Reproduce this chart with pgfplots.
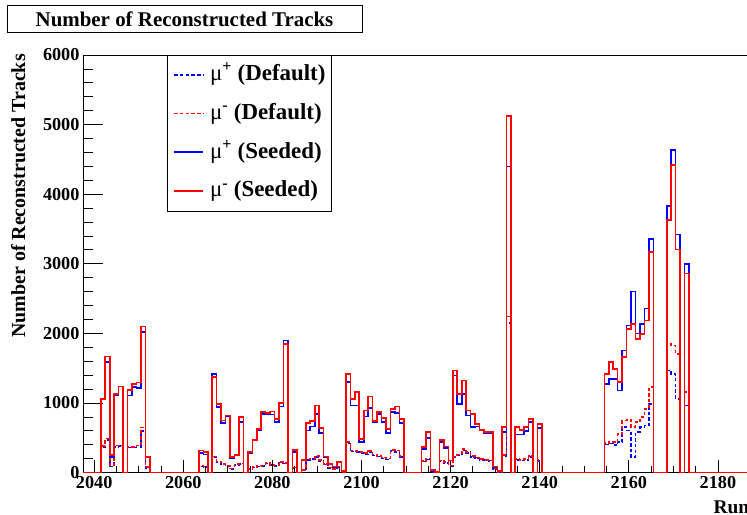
\documentclass[border=0pt]{standalone}
\usepackage{fontspec}
\setmainfont{Liberation Serif}
\usepackage{pgfplots}
\usepackage{pgfplotstable}
\pgfplotsset{compat=1.18}

% n = run (bin centre); rs/bs = mu-/mu+ seeded; rd/bd = mu-/mu+ default
\pgfplotstableread{
n rs bs rd bd
2038 0 0 0 0
2042 1060 1050 380 370
2043 1670 1590 490 470
2044 254 220 100 90
2045 1130 1108 390 370
2046 1237 1237 390 380
2047 0 0 0 0
2048 1190 1108 370 360
2049 1276 1228 370 360
2050 1295 1218 390 370
2051 2100 2020 650 600
2052 220 220 80 70
2053 0 0 0 0
2064 317 283 100 90
2065 293 259 90 80
2066 0 0 0 0
2067 1371 1419 230 220
2068 988 940 160 150
2069 748 710 125 120
2070 820 806 100 95
2071 220 206 60 55
2072 254 245 125 110
2073 796 724 130 125
2074 0 0 0 0
2075 293 278 55 50
2076 470 460 80 75
2077 623 614 95 90
2078 868 844 100 95
2079 854 835 135 130
2080 878 835 110 105
2081 772 724 100 95
2082 997 950 150 140
2083 1851 1899 135 130
2084 0 0 0 0
2085 326 293 75 70
2086 0 0 0 0
2087 182 172 40 35
2088 710 604 195 180
2089 739 662 205 195
2090 964 844 240 225
2091 643 566 185 170
2092 230 220 125 115
2093 125 115 75 70
2094 86 77 55 50
2095 150 150 85 80
2096 20 15 10 10
2097 1420 1300 436 420
2098 1060 964 317 305
2099 1156 964 307 295
2100 485 437 292 280
2101 892 806 278 265
2102 1094 931 307 290
2103 739 729 259 245
2104 868 844 240 230
2105 787 724 216 205
2106 628 566 202 190
2107 916 868 326 310
2108 950 854 317 300
2109 772 710 240 225
2110 0 0 0 0
2114 364 340 170 160
2115 580 499 200 190
2116 36 20 15 10
2117 10 8 5 5
2118 470 437 175 165
2119 374 355 150 140
2120 172 172 100 95
2121 1468 1396 230 220
2122 1132 988 260 250
2123 1324 1132 340 320
2124 892 820 292 280
2125 844 652 240 225
2126 700 662 216 205
2127 614 604 192 185
2128 580 566 182 175
2129 580 566 172 165
2130 86 80 60 55
2131 20 15 10 10
2132 652 580 250 240
2133 5120 4400 2240 2150
2134 0 0 0 0
2135 652 547 197 185
2136 614 547 182 175
2137 652 595 197 185
2138 772 724 240 225
2139 0 0 0 0
2140 700 643 180 170
2141 0 0 0 0
2155 1420 1276 422 403
2156 1587 1348 440 420
2157 1492 1348 437 393
2158 1300 1180 556 437
2159 1660 1755 748 652
2160 2067 2115 758 604
2161 2139 2600 652 220
2162 1918 2000 724 585
2163 1990 2139 796 652
2164 2187 2355 916 676
2165 3170 3352 1228 988
2166 0 0 0 0
2169 3626 3827 1851 1468
2170 4417 4633 1827 1420
2171 3204 3420 1708 1060
2172 0 0 0 0
2173 2858 2993 1156 964
2174 0 0 0 0
2190 0 0 0 0
}\runs

\begin{document}
\begin{tikzpicture}
\begin{axis}[
  at={(83bp,42.4bp)}, anchor=south west,
  scale only axis, width=664.8bp, height=417.6bp,
  xmin=2037.5, xmax=2186.7, ymin=0, ymax=6000,
  axis line style={draw=black, line width=0.8bp},
  xtick={2040,2060,...,2180}, minor x tick num=3,
  ytick={0,1000,...,6000}, minor y tick num=4,
  xtick pos=left, ytick pos=left, tick align=inside,
  tick style={draw=black, line width=0.8bp},
  major tick length=20bp, minor tick length=10bp,
  xtick style={/pgfplots/major tick length=12.7bp, /pgfplots/minor tick length=6.5bp},
  /pgf/number format/assume math mode=true,
  /pgf/number format/set thousands separator={},
  ticklabel style={font=\bfseries\fontsize{18.3}{18.3}\selectfont},
  legend cell align=left,
  legend style={at={(0.1264,1)}, anchor=north west, draw=black, line width=0.8bp,
    fill=white, inner xsep=6bp, inner ysep=9.5bp,
    font=\bfseries\fontsize{23}{23}\selectfont,
    nodes={inner sep=0pt, text height=16bp, text depth=5bp},
    row sep=17.7bp, column sep=6bp},
]
\addplot[forget plot, const plot, color=blue, draw=blue, line width=1.6bp, dash pattern=on 3.5bp off 2.2bp] table[x expr=\thisrow{n}-0.5, y=bd] {\runs};
\addplot[forget plot, const plot, color=red, draw=red, line width=1.6bp, dash pattern=on 3.5bp off 2.2bp] table[x expr=\thisrow{n}-0.5, y=rd] {\runs};
\addplot[forget plot, const plot, color=blue, draw=blue, line width=1.6bp] table[x expr=\thisrow{n}-0.5, y=bs] {\runs};
\addplot[forget plot, const plot, color=red, draw=red, line width=1.6bp] table[x expr=\thisrow{n}-0.5, y=rs] {\runs};
\addlegendimage{legend image code/.code={\draw[color=blue, draw=blue, line width=1.6bp, dash pattern=on 3.5bp off 2.2bp] (0bp,0.5bp) -- (29bp,0.5bp);}}
\addlegendentry{{\mdseries μ}\textsuperscript{+} (Default)}
\addlegendimage{legend image code/.code={\draw[color=red, draw=red, line width=1.6bp, dash pattern=on 3.5bp off 2.2bp] (0bp,0.5bp) -- (29bp,0.5bp);}}
\addlegendentry{{\mdseries μ}\textsuperscript{-} (Default)}
\addlegendimage{legend image code/.code={\draw[color=blue, draw=blue, line width=1.6bp] (0bp,0.5bp) -- (29bp,0.5bp);}}
\addlegendentry{{\mdseries μ}\textsuperscript{+} (Seeded)}
\addlegendimage{legend image code/.code={\draw[color=red, draw=red, line width=1.6bp] (0bp,0.5bp) -- (29bp,0.5bp);}}
\addlegendentry{{\mdseries μ}\textsuperscript{-} (Seeded)}
\end{axis}
\draw[draw=black, line width=0.8bp, fill=white] (7bp,483bp) rectangle (362bp,510bp);
\node[anchor=base, inner sep=0pt, font=\bfseries\fontsize{21}{21}\selectfont] at (184.5bp,488.3bp) {Number of Reconstructed Tracks};
\node[rotate=90, anchor=base east, inner sep=0pt, font=\bfseries\fontsize{20}{20}\selectfont] at (25bp,461bp) {Number of Reconstructed Tracks};
\node[anchor=base west, inner sep=0pt, font=\bfseries\fontsize{19.5}{19.5}\selectfont] at (713.3bp,1.5bp) {Run Number};
\pgfresetboundingbox
\path[use as bounding box] (0bp,0bp) rectangle (747bp,515bp);
\end{tikzpicture}
\end{document}
